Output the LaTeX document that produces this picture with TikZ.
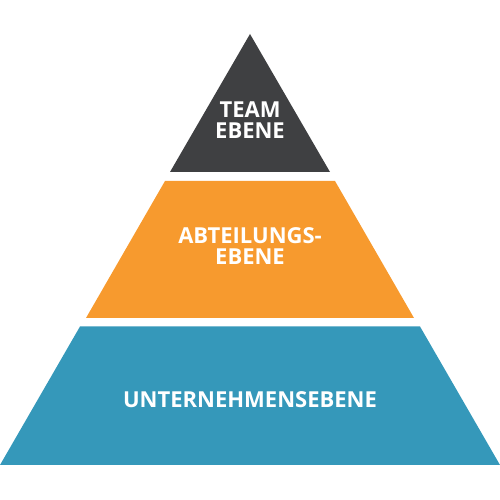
\documentclass[tikz,border=0pt]{standalone}
\usepackage{fontspec}
\setmainfont{Open Sans}
\definecolor{teamgray}{HTML}{3F4042}
\definecolor{abtorange}{HTML}{F79A2E}
\definecolor{unterblue}{HTML}{3598BA}
\begin{document}
\begin{tikzpicture}[x=1pt, y=1pt, level/.style = {draw=none}, label/.style = {text=white, font=\bfseries\fontsize{22}{21}\selectfont, align=center, inner sep=0pt}]
    \useasboundingbox (0,0) rectangle (500,500);
    % Disegna i livelli della piramide

    \fill[teamgray] (250,466) -- (330,328) -- (170,328) -- cycle;
    \fill[abtorange] (165,319) -- (335,319) -- (414,182) -- (86,182) -- cycle;
    \fill[unterblue] (80,173.5) -- (420,173.5) -- (500,35) -- (0,35) -- cycle;

    % Disegna le etichette
    \node[label] (team) at (250,380) {TEAM\\EBENE};
    \node[label] (abt) at (250,253.5) {ABTEILUNGS-\\EBENE};
    \node[label] (unter) at (250,100.5) {UNTERNEHMENSEBENE};

\end{tikzpicture}
\end{document}
